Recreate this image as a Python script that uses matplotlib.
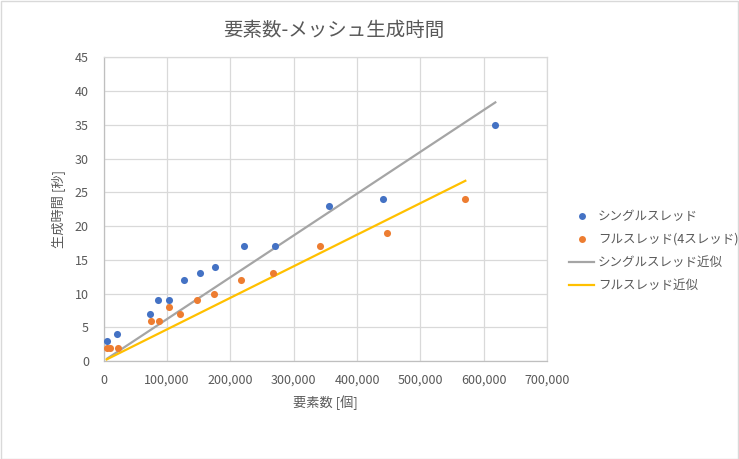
import numpy as np
from matplotlib import pyplot as plt
from matplotlib.patches import Rectangle
from matplotlib.ticker import FuncFormatter, MultipleLocator
from matplotlib.lines import Line2D

plt.rcParams['font.family'] = ['Noto Sans CJK JP', 'DejaVu Sans']

# element count vs meshing time [s]
singleX = [6000, 21800, 73800, 86400, 103800, 126500, 152700, 176300, 222100, 271000, 356200, 441300, 618000]
singleY = [3, 4, 7, 9, 9, 12, 13, 14, 17, 17, 23, 24, 35]
fullX = [5000, 10000, 22400, 75400, 88000, 102800, 121100, 147000, 174800, 217300, 267800, 341500, 446700, 570700]
fullY = [2, 2, 2, 6, 6, 8, 7, 9, 10, 12, 13, 17, 19, 24]

seriesNames = ["シングルスレッド", "フルスレッド(4スレッド)", "シングルスレッド近似", "フルスレッド近似"]
titleText = "要素数-メッシュ生成時間"
xLabel = "要素数 [個]"
yLabel = "生成時間 [秒]"

txtColor = "#595959"
gridColor = "#d9d9d9"


def originFit(x, y):
    # least squares line through the origin (Excel trendline with intercept=0)
    x = np.asarray(x, dtype=float)
    y = np.asarray(y, dtype=float)
    slope = np.sum(x * y) / np.sum(x * x)
    xs = np.sort(x)
    return xs, slope * xs


fig = plt.figure(figsize=(7.39, 4.59), dpi=100)
ax = fig.add_axes([103.5 / 739, 1 - 361 / 459, (547.3 - 103.5) / 739, (361 - 57.3) / 459])

fx, fy = originFit(singleX, singleY)
ax.plot(fx, fy, color="#A5A5A5", linewidth=1.6, zorder=3)
fx, fy = originFit(fullX, fullY)
ax.plot(fx, fy, color="#FFC000", linewidth=1.6, zorder=3)
ax.scatter(singleX, singleY, s=26, color="#4472C4", zorder=4, linewidths=0)
ax.scatter(fullX, fullY, s=26, color="#ED7D31", zorder=4, linewidths=0)

ax.set_xlim(0, 700000)
ax.set_ylim(0, 45)
ax.xaxis.set_major_locator(MultipleLocator(100000))
ax.yaxis.set_major_locator(MultipleLocator(5))
ax.xaxis.set_major_formatter(FuncFormatter(lambda v, p: format(int(v), ",")))
ax.grid(True, color=gridColor, linewidth=0.9, zorder=0)
ax.set_axisbelow(True)
for s in ax.spines.values():
    s.set_color(gridColor)
    s.set_linewidth(0.9)
ax.spines["left"].set_color("#bfbfbf")
ax.spines["bottom"].set_color("#bfbfbf")
ax.tick_params(axis="both", length=0, labelsize=9, labelcolor=txtColor)
ax.tick_params(axis="x", pad=9)
ax.tick_params(axis="y", pad=10.5)

ax.set_xlabel(xLabel, fontsize=9.5, color=txtColor, labelpad=6)
ax.set_ylabel(yLabel, fontsize=9.5, color=txtColor, labelpad=7)

fig.text(334 / 739, 1 - 30 / 459, titleText, fontsize=14, color=txtColor, ha="center", va="center")

handles = [
    Line2D([], [], linestyle="none", marker="o", markersize=5, color="#4472C4", markeredgewidth=0),
    Line2D([], [], linestyle="none", marker="o", markersize=5, color="#ED7D31", markeredgewidth=0),
    Line2D([], [], color="#A5A5A5", linewidth=1.6),
    Line2D([], [], color="#FFC000", linewidth=1.6),
]
leg = fig.legend(handles, seriesNames, loc="center left", bbox_to_anchor=(558 / 739, 1 - 251 / 459),
                 frameon=False, fontsize=9, handlelength=2.0, handletextpad=0.3, labelspacing=0.8,
                 labelcolor=txtColor)

fig.patches.append(Rectangle((0.5 / 739, 0.5 / 459), 1 - 1.5 / 739, 1 - 1.5 / 459, transform=fig.transFigure,
                             fill=False, edgecolor=gridColor, linewidth=1))

fig.savefig("out.png", dpi=100)
plt.close(fig)
